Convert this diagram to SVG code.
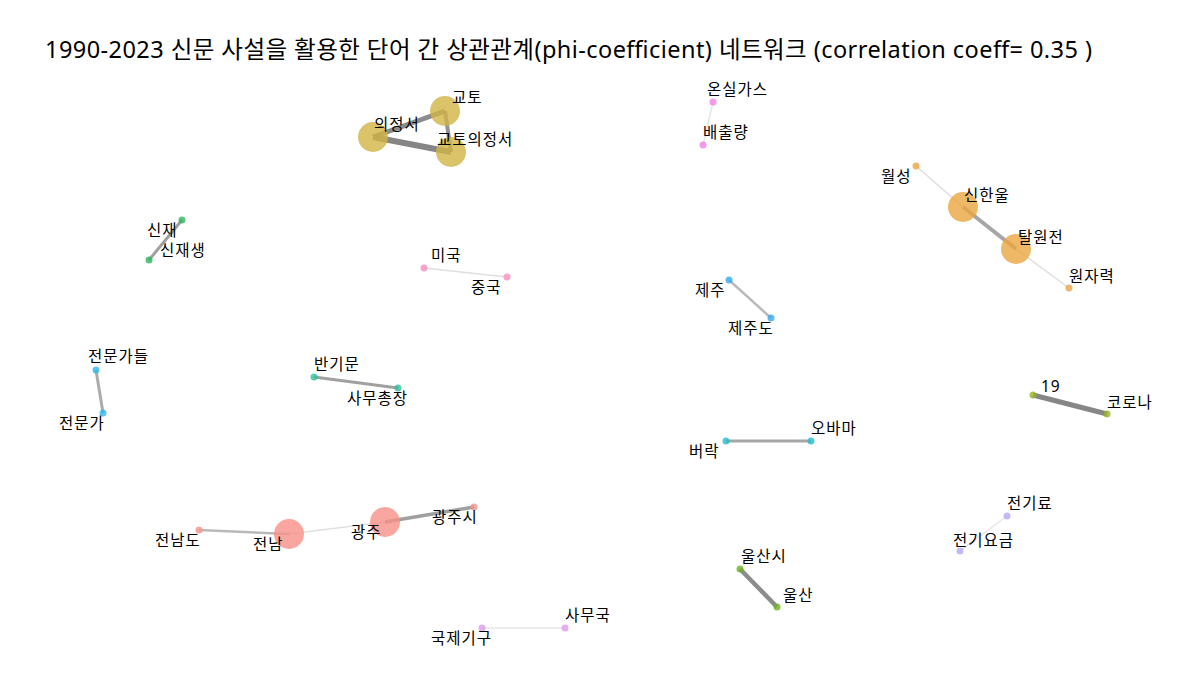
<svg xmlns="http://www.w3.org/2000/svg" width="1200" height="700" viewBox="0 0 1200 700">
<style>
text{font-family:"Noto Sans","Noto Sans CJK KR",sans-serif;fill:#000}
.t{font-size:23.5px}
.l{font-size:15.5px;letter-spacing:1px}
.e{stroke:#808080;stroke-linecap:butt;fill:none}
.n{fill-opacity:0.8}
</style>
<rect width="1200" height="700" fill="#fff"/>
<text class="t" x="45" y="58" textLength="1047" lengthAdjust="spacing">1990-2023 신문 사설을 활용한 단어 간 상관관계(phi-coefficient) 네트워크 (correlation coeff= 0.35 )</text>
<g id="edges">
<line class="e" x1="373" y1="137" x2="445" y2="111" stroke-width="5" stroke-opacity="0.9"/>
<line class="e" x1="445" y1="111" x2="451" y2="152" stroke-width="4" stroke-opacity="0.85"/>
<line class="e" x1="373" y1="137" x2="451" y2="152" stroke-width="6" stroke-opacity="0.95"/>
<line class="e" x1="182" y1="220" x2="149" y2="260" stroke-width="3" stroke-opacity="0.75"/>
<line class="e" x1="424" y1="268" x2="507" y2="277" stroke-width="1.5" stroke-opacity="0.25"/>
<line class="e" x1="713" y1="102" x2="703" y2="145" stroke-width="1.5" stroke-opacity="0.2"/>
<line class="e" x1="916" y1="166" x2="963" y2="207" stroke-width="1.5" stroke-opacity="0.25"/>
<line class="e" x1="963" y1="207" x2="1016" y2="249" stroke-width="4" stroke-opacity="0.7"/>
<line class="e" x1="1016" y1="249" x2="1069" y2="288" stroke-width="1.5" stroke-opacity="0.25"/>
<line class="e" x1="729" y1="280" x2="771" y2="318" stroke-width="2.5" stroke-opacity="0.55"/>
<line class="e" x1="96" y1="370" x2="103" y2="413" stroke-width="3" stroke-opacity="0.65"/>
<line class="e" x1="314" y1="377" x2="398" y2="388" stroke-width="3" stroke-opacity="0.75"/>
<line class="e" x1="1033" y1="395" x2="1107" y2="414" stroke-width="5" stroke-opacity="0.95"/>
<line class="e" x1="726" y1="441" x2="811" y2="441" stroke-width="3" stroke-opacity="0.7"/>
<line class="e" x1="199" y1="530" x2="289" y2="534" stroke-width="2.5" stroke-opacity="0.55"/>
<line class="e" x1="289" y1="534" x2="385" y2="522" stroke-width="1.5" stroke-opacity="0.25"/>
<line class="e" x1="385" y1="522" x2="474" y2="507" stroke-width="3.5" stroke-opacity="0.75"/>
<line class="e" x1="1007" y1="516" x2="960" y2="551" stroke-width="1.5" stroke-opacity="0.2"/>
<line class="e" x1="740" y1="569" x2="777" y2="607" stroke-width="4.5" stroke-opacity="0.9"/>
<line class="e" x1="482" y1="628" x2="565" y2="628" stroke-width="1.5" stroke-opacity="0.2"/>
</g>
<g id="n-kyoto"><circle class="n" cx="445" cy="111" r="15" fill="#d1b443"/><text class="l" x="452" y="103">교토</text></g>
<g id="n-uijeongseo"><circle class="n" cx="373" cy="137" r="15" fill="#d1b443"/><text class="l" x="374" y="130">의정서</text></g>
<g id="n-kyotoprotocol"><circle class="n" cx="451" cy="152" r="15" fill="#d1b443"/><text class="l" x="437" y="145">교토의정서</text></g>
<g id="n-sinjae"><circle class="n" cx="182" cy="220" r="3.5" fill="#2fb55e"/><text class="l" x="147" y="236">신재</text></g>
<g id="n-sinjaesaeng"><circle class="n" cx="149" cy="260" r="3.5" fill="#2fb55e"/><text class="l" x="160" y="256">신재생</text></g>
<g id="n-miguk"><circle class="n" cx="424" cy="268" r="3.5" fill="#fa8fc0"/><text class="l" x="431" y="261">미국</text></g>
<g id="n-jungguk"><circle class="n" cx="507" cy="277" r="3.5" fill="#fa8fc0"/><text class="l" x="471" y="293">중국</text></g>
<g id="n-onsil"><circle class="n" cx="713" cy="102" r="3.5" fill="#f57ee6"/><text class="l" x="707" y="95">온실가스</text></g>
<g id="n-baechul"><circle class="n" cx="703" cy="145" r="3.5" fill="#f57ee6"/><text class="l" x="703" y="138">배출량</text></g>
<g id="n-wolseong"><circle class="n" cx="916" cy="166" r="3.5" fill="#eba640"/><text class="l" x="881" y="182">월성</text></g>
<g id="n-sinhanul"><circle class="n" cx="963" cy="207" r="15" fill="#eba640"/><text class="l" x="964" y="201">신한울</text></g>
<g id="n-talwonjeon"><circle class="n" cx="1016" cy="249" r="15" fill="#eba640"/><text class="l" x="1018" y="243">탈원전</text></g>
<g id="n-wonjaryeok"><circle class="n" cx="1069" cy="288" r="3.5" fill="#eba640"/><text class="l" x="1069" y="282">원자력</text></g>
<g id="n-jeju"><circle class="n" cx="729" cy="280" r="3.5" fill="#33aaf0"/><text class="l" x="695" y="296">제주</text></g>
<g id="n-jejudo"><circle class="n" cx="771" cy="318" r="3.5" fill="#33aaf0"/><text class="l" x="728" y="334">제주도</text></g>
<g id="n-experts"><circle class="n" cx="96" cy="370" r="3.5" fill="#30b6ee"/><text class="l" x="88" y="362">전문가들</text></g>
<g id="n-expert"><circle class="n" cx="103" cy="413" r="3.5" fill="#30b6ee"/><text class="l" x="59" y="429">전문가</text></g>
<g id="n-bangimun"><circle class="n" cx="314" cy="377" r="3.5" fill="#2dc09a"/><text class="l" x="314" y="370">반기문</text></g>
<g id="n-samuchongjang"><circle class="n" cx="398" cy="388" r="3.5" fill="#2dc09a"/><text class="l" x="347" y="404">사무총장</text></g>
<g id="n-19"><circle class="n" cx="1033" cy="395" r="3.5" fill="#98b426"/><text class="l" x="1041" y="392">19</text></g>
<g id="n-corona"><circle class="n" cx="1107" cy="414" r="3.5" fill="#98b426"/><text class="l" x="1107" y="408">코로나</text></g>
<g id="n-barak"><circle class="n" cx="726" cy="441" r="3.5" fill="#22bfcc"/><text class="l" x="689" y="457">버락</text></g>
<g id="n-obama"><circle class="n" cx="811" cy="441" r="3.5" fill="#22bfcc"/><text class="l" x="811" y="434">오바마</text></g>
<g id="n-jeonnamdo"><circle class="n" cx="199" cy="530" r="3.5" fill="#f8908a"/><text class="l" x="155" y="546">전남도</text></g>
<g id="n-jeonnam"><circle class="n" cx="289" cy="534" r="15" fill="#f8908a"/><text class="l" x="253" y="550">전남</text></g>
<g id="n-gwangju"><circle class="n" cx="385" cy="522" r="15" fill="#f8908a"/><text class="l" x="351" y="538">광주</text></g>
<g id="n-gwangjusi"><circle class="n" cx="474" cy="507" r="3.5" fill="#f8908a"/><text class="l" x="432" y="523">광주시</text></g>
<g id="n-jeongiryo"><circle class="n" cx="1007" cy="516" r="3.5" fill="#b8a8fa"/><text class="l" x="1007" y="509">전기료</text></g>
<g id="n-jeongiyogeum"><circle class="n" cx="960" cy="551" r="3.5" fill="#b8a8fa"/><text class="l" x="953" y="546">전기요금</text></g>
<g id="n-ulsansi"><circle class="n" cx="740" cy="569" r="3.5" fill="#6eb01e"/><text class="l" x="741" y="562">울산시</text></g>
<g id="n-ulsan"><circle class="n" cx="777" cy="607" r="3.5" fill="#6eb01e"/><text class="l" x="783" y="601">울산</text></g>
<g id="n-intl"><circle class="n" cx="482" cy="628" r="3.5" fill="#df98f2"/><text class="l" x="431" y="644">국제기구</text></g>
<g id="n-samuguk"><circle class="n" cx="565" cy="628" r="3.5" fill="#df98f2"/><text class="l" x="565" y="621">사무국</text></g>
</svg>
